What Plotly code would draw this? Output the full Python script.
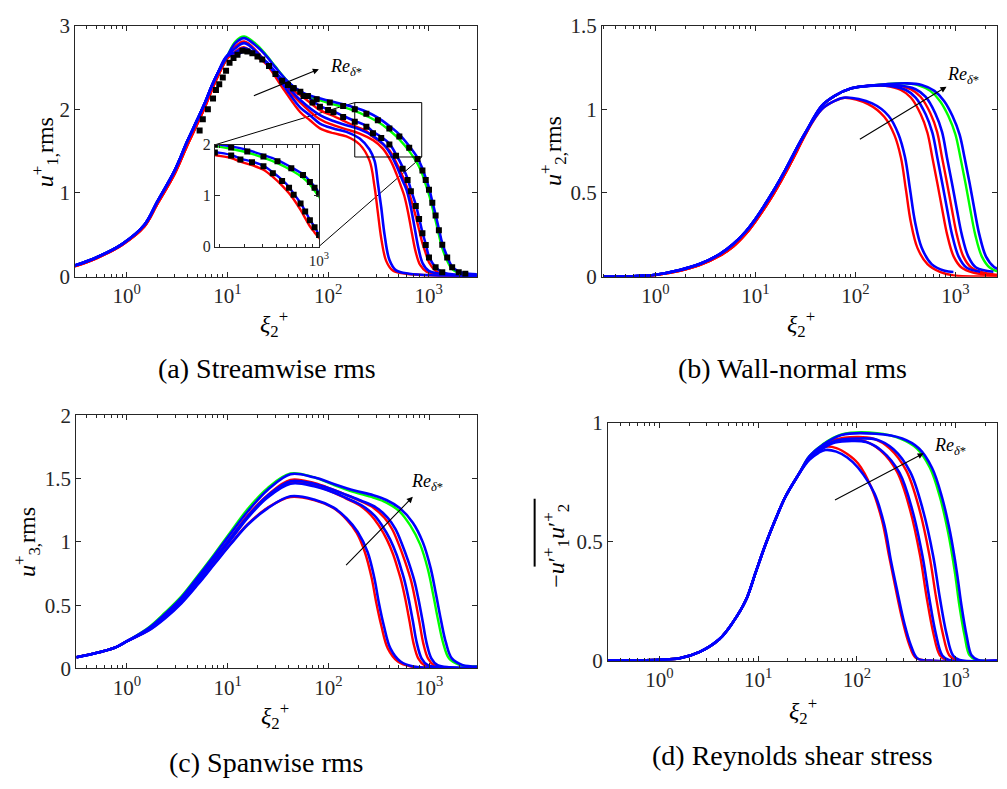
import math
import plotly.graph_objects as go

W, H = 1007, 789

# ------------------------------------------------------------------ data
# (a) streamwise rms  -- shared near-wall part, then per-curve outer part
A_RISE_X = [0.3, 0.5, 0.9, 1.5, 2, 3, 4, 5, 6, 7, 8, 10]
A_RISE_Y = [0.13, 0.23, 0.39, 0.62, 0.89, 1.27, 1.62, 1.87, 2.08, 2.28, 2.43, 2.64]
A_RISE_Y_RED = [0.12, 0.22, 0.38, 0.60, 0.86, 1.23, 1.57, 1.82, 2.03, 2.23, 2.39, 2.61]

A_G1_RED_X = [12, 14.7, 19, 24.9, 36.3, 53, 66, 83, 113, 152, 206, 258, 289, 312, 337, 377, 439, 593, 1084, 3000]
A_G1_RED_Y = [2.66, 2.71, 2.66, 2.525, 2.236, 1.965, 1.869, 1.772, 1.714, 1.676, 1.579, 1.386, 1.077, 0.768, 0.46, 0.189, 0.073, 0.035, 0.015, 0.008]
A_G1_BLUE_X = [12, 14.7, 19, 24.9, 36.3, 53, 66, 83, 113, 152, 206, 258, 290, 312, 337, 364, 407, 474, 640, 1170, 3000]
A_G1_BLUE_Y = [2.64, 2.69, 2.65, 2.56, 2.28, 2.02, 1.93, 1.83, 1.77, 1.73, 1.65, 1.52, 1.38, 1.12, 0.83, 0.50, 0.20, 0.075, 0.035, 0.015, 0.008]
A_G2_RED_X = [12, 14.7, 20, 25, 36, 53, 83, 113, 152, 206, 280, 350, 420, 480, 530, 570, 620, 680, 740, 820, 950, 1300, 3000]
A_G2_RED_Y = [2.69, 2.74, 2.62, 2.53, 2.30, 2.08, 1.88, 1.81, 1.76, 1.71, 1.63, 1.53, 1.38, 1.22, 1.08, 0.97, 0.78, 0.52, 0.30, 0.14, 0.06, 0.025, 0.01]
A_G2_BLUE_X = [12, 14.7, 20, 25, 36, 53, 83, 113, 152, 206, 280, 350, 420, 480, 540, 600, 650, 720, 790, 870, 1000, 1400, 3000]
A_G2_BLUE_Y = [2.68, 2.73, 2.64, 2.55, 2.33, 2.11, 1.93, 1.86, 1.81, 1.76, 1.68, 1.59, 1.46, 1.32, 1.17, 1.04, 0.88, 0.60, 0.34, 0.16, 0.07, 0.03, 0.01]
A_G3_RED_X = [12, 14.7, 20, 30, 40, 57, 83, 113, 141, 184, 240, 279, 337, 406, 473, 550, 616, 664, 743, 801, 865, 933, 1005, 1169, 1361, 2000, 3000]
A_G3_RED_Y = [2.75, 2.81, 2.68, 2.41, 2.27, 2.14, 1.99, 1.92, 1.865, 1.80, 1.74, 1.67, 1.60, 1.51, 1.37, 1.20, 1.05, 0.93, 0.72, 0.56, 0.40, 0.28, 0.17, 0.07, 0.03, 0.012, 0.006]
A_G3_BLUE_X = [12, 14.7, 20, 30, 40, 57, 83, 113, 141, 184, 240, 279, 337, 406, 473, 550, 616, 664, 743, 801, 865, 933, 1005, 1169, 1361, 2000, 3000]
A_G3_BLUE_Y = [2.73, 2.79, 2.67, 2.43, 2.31, 2.19, 2.04, 1.975, 1.92, 1.86, 1.80, 1.73, 1.67, 1.59, 1.46, 1.31, 1.17, 1.04, 0.86, 0.70, 0.53, 0.39, 0.24, 0.11, 0.055, 0.02, 0.01]
A_G4_GREEN_X = [12, 14.7, 20, 25, 30, 40, 53, 77, 104, 141, 184, 240, 312, 406, 510, 639, 773, 865, 933, 1005, 1084, 1169, 1260, 1361, 1524, 1707, 1984, 2500, 3000]
A_G4_GREEN_Y = [2.81, 2.87, 2.76, 2.63, 2.51, 2.33, 2.20, 2.12, 2.07, 2.03, 1.98, 1.92, 1.85, 1.75, 1.64, 1.50, 1.35, 1.22, 1.10, 0.98, 0.83, 0.67, 0.50, 0.34, 0.19, 0.09, 0.045, 0.025, 0.02]
A_G4_BLUE_X = [12, 14.7, 20, 25, 30, 40, 53, 77, 104, 141, 184, 240, 312, 406, 510, 639, 773, 865, 933, 1005, 1084, 1169, 1260, 1361, 1524, 1707, 1984, 2500, 3000]
A_G4_BLUE_Y = [2.79, 2.85, 2.74, 2.62, 2.50, 2.33, 2.21, 2.14, 2.10, 2.06, 2.02, 1.97, 1.90, 1.80, 1.70, 1.56, 1.42, 1.29, 1.18, 1.06, 0.90, 0.74, 0.57, 0.40, 0.24, 0.12, 0.06, 0.035, 0.03]

A_DOTS_U_X = [5.3, 5.7, 6.4, 7.2, 7.7, 8.3, 9.0, 9.7, 10.5, 11.5, 12.6, 14.1, 15.8, 17.7, 19.9, 22.2, 25.9, 30, 35, 40,
              45, 53, 63, 77, 104, 141, 184, 240, 312, 406, 510, 639, 773, 865, 933, 1005, 1084, 1169, 1260, 1361,
              1524, 1707, 1984, 2306]
A_DOTS_U_Y = [1.745, 1.88, 2.0, 2.13, 2.23, 2.30, 2.38, 2.46, 2.556, 2.614, 2.65, 2.70, 2.69, 2.67, 2.63, 2.595, 2.517, 2.42, 2.34, 2.29,
              2.25, 2.21, 2.16, 2.12, 2.08, 2.04, 2.00, 1.946, 1.87, 1.77, 1.675, 1.54, 1.405, 1.27, 1.155, 1.04, 0.884, 0.73, 0.556, 0.382,
              0.228, 0.112, 0.054, 0.035]
A_DOTS_L_X = [45.6, 57, 70, 83, 100, 113, 141, 184, 240, 279, 337, 406, 473, 550, 616, 664, 743, 801, 865, 933, 1005, 1169, 1361]
A_DOTS_L_Y = [2.25, 2.16, 2.08, 2.03, 1.99, 1.965, 1.908, 1.85, 1.79, 1.714, 1.656, 1.579, 1.444, 1.29, 1.155, 1.02, 0.846, 0.69, 0.52, 0.38, 0.228, 0.112, 0.054]

# (b) wall-normal rms
B_RISE_X = [0.3, 0.6, 1, 1.75, 2.8, 4.4, 6, 8, 10, 14.7, 20, 26, 31.6]
B_RISE_Y = [0.0, 0.003, 0.012, 0.04, 0.077, 0.135, 0.195, 0.27, 0.345, 0.50, 0.64, 0.77, 0.86]
B_RISE_Y_RED = [0.0, 0.002, 0.01, 0.035, 0.07, 0.125, 0.18, 0.255, 0.33, 0.48, 0.62, 0.75, 0.85]
B_G1_RED_X = [46, 62, 78, 134, 195, 245, 285, 320, 358, 417, 525, 710, 958, 3000]
B_G1_RED_Y = [1.00, 1.05, 1.069, 1.031, 0.954, 0.847, 0.712, 0.519, 0.326, 0.172, 0.075, 0.027, 0.008, 0.002]
B_G1_BLUE_X = [46, 62, 80, 147, 215, 270, 313, 352, 394, 459, 578, 780, 955]
B_G1_BLUE_Y = [1.00, 1.05, 1.07, 1.035, 0.96, 0.85, 0.715, 0.52, 0.33, 0.175, 0.075, 0.035, 0.028]
B_G2_RED_X = [46, 62, 91, 134, 200, 285, 358, 450, 525, 588, 659, 739, 828, 962, 1150, 1500, 2060, 3000]
B_G2_RED_Y = [1.02, 1.08, 1.125, 1.14, 1.14, 1.115, 1.07, 0.97, 0.86, 0.712, 0.56, 0.40, 0.25, 0.12, 0.055, 0.025, 0.012, 0.005]
B_G2_BLUE_X = [46, 62, 91, 134, 220, 320, 400, 504, 588, 659, 738, 828, 927, 1077, 1288, 1770]
B_G2_BLUE_Y = [1.02, 1.08, 1.125, 1.14, 1.14, 1.115, 1.07, 0.97, 0.86, 0.712, 0.56, 0.40, 0.25, 0.12, 0.055, 0.03]
B_G3_RED_X = [46, 62, 91, 134, 250, 356, 448, 563, 656, 735, 824, 924, 1035, 1203, 1438, 1875, 2575, 3000]
B_G3_RED_Y = [1.02, 1.08, 1.125, 1.14, 1.145, 1.12, 1.075, 0.975, 0.865, 0.712, 0.56, 0.40, 0.25, 0.12, 0.055, 0.025, 0.012, 0.008]
B_G3_BLUE_X = [46, 62, 91, 134, 250, 400, 502, 630, 735, 823, 923, 1035, 1160, 1347, 1610, 2400]
B_G3_BLUE_Y = [1.02, 1.08, 1.125, 1.14, 1.145, 1.12, 1.075, 0.975, 0.865, 0.712, 0.56, 0.40, 0.25, 0.12, 0.055, 0.03]
B_G4_GREEN_X = [46, 62, 91, 134, 200, 300, 420, 560, 700, 850, 1000, 1122, 1260, 1410, 1580, 1840, 2200, 3000]
B_G4_GREEN_Y = [1.02, 1.08, 1.125, 1.14, 1.15, 1.155, 1.145, 1.11, 1.05, 0.96, 0.85, 0.712, 0.56, 0.40, 0.25, 0.12, 0.055, 0.02]
B_G4_BLUE_X = [46, 62, 91, 134, 200, 330, 460, 616, 770, 935, 1100, 1234, 1386, 1551, 1738, 2024, 2420, 3000]
B_G4_BLUE_Y = [1.02, 1.08, 1.125, 1.14, 1.15, 1.155, 1.145, 1.11, 1.05, 0.96, 0.85, 0.712, 0.56, 0.40, 0.25, 0.12, 0.06, 0.035]

# (c) spanwise rms
C_RISE_X = [0.315, 0.53, 0.77, 1]
C_RISE_Y = [0.088, 0.128, 0.166, 0.215]
C_G1_RED_X = [1.63, 2.38, 3.47, 5.07, 7.39, 10.8, 15.8, 24.9, 42, 72, 113, 152, 191, 230, 268, 300, 336, 390, 490, 660, 1400, 3000]
C_G1_RED_Y = [0.30, 0.40, 0.52, 0.67, 0.83, 0.99, 1.14, 1.27, 1.355, 1.33, 1.265, 1.175, 1.07, 0.92, 0.72, 0.513, 0.335, 0.156, 0.054, 0.015, 0.003, 0.002]
C_G1_BLUE_X = [1.63, 2.38, 3.47, 5.07, 7.39, 10.8, 15.8, 24.9, 42, 72, 113, 152, 195, 245, 285, 318, 356, 414, 520, 700, 1500, 3000]
C_G1_BLUE_Y = [0.298, 0.395, 0.515, 0.665, 0.825, 0.985, 1.135, 1.265, 1.36, 1.335, 1.27, 1.185, 1.08, 0.92, 0.72, 0.513, 0.335, 0.156, 0.054, 0.015, 0.003, 0.002]
C_G2_RED_X = [1.63, 2.38, 3.47, 5.07, 7.39, 10.8, 15.8, 24.9, 42, 72, 113, 152, 212, 265, 316, 380, 440, 500, 530, 580, 640, 700, 780, 900, 1200, 3000]
C_G2_RED_Y = [0.308, 0.415, 0.54, 0.70, 0.86, 1.03, 1.20, 1.36, 1.47, 1.445, 1.39, 1.34, 1.28, 1.21, 1.13, 1.02, 0.90, 0.76, 0.69, 0.55, 0.37, 0.20, 0.08, 0.025, 0.008, 0.003]
C_G2_BLUE_X = [1.63, 2.38, 3.47, 5.07, 7.39, 10.8, 15.8, 24.9, 42, 72, 113, 152, 212, 286, 341, 410, 475, 540, 572, 626, 691, 756, 842, 972, 1300, 3000]
C_G2_BLUE_Y = [0.305, 0.41, 0.535, 0.69, 0.855, 1.02, 1.19, 1.35, 1.46, 1.44, 1.39, 1.345, 1.29, 1.21, 1.13, 1.02, 0.90, 0.76, 0.69, 0.55, 0.37, 0.20, 0.08, 0.025, 0.008, 0.003]
C_G3_RED_X = [1.63, 2.38, 3.47, 5.07, 7.39, 10.8, 15.8, 24.9, 42, 72, 113, 152, 212, 280, 360, 430, 500, 580, 664, 725, 800, 875, 975, 1125, 1500, 3000]
C_G3_RED_Y = [0.31, 0.42, 0.545, 0.705, 0.87, 1.04, 1.21, 1.37, 1.49, 1.465, 1.41, 1.37, 1.32, 1.27, 1.19, 1.10, 0.98, 0.84, 0.69, 0.55, 0.37, 0.20, 0.08, 0.025, 0.008, 0.003]
C_G3_BLUE_X = [1.63, 2.38, 3.47, 5.07, 7.39, 10.8, 15.8, 24.9, 42, 72, 113, 152, 212, 300, 389, 464, 540, 626, 716, 783, 864, 945, 1053, 1215, 1620, 3000]
C_G3_BLUE_Y = [0.31, 0.418, 0.54, 0.70, 0.865, 1.035, 1.20, 1.365, 1.48, 1.46, 1.41, 1.37, 1.325, 1.27, 1.19, 1.10, 0.98, 0.84, 0.69, 0.55, 0.37, 0.20, 0.08, 0.025, 0.008, 0.003]
C_G4_GREEN_X = [1.63, 2.38, 3.47, 5.07, 7.39, 10.8, 15.8, 24.9, 42, 72, 113, 177, 279, 377, 510, 650, 815, 975, 1100, 1230, 1380, 1580, 2000, 3000]
C_G4_GREEN_Y = [0.322, 0.44, 0.57, 0.735, 0.905, 1.085, 1.26, 1.425, 1.54, 1.51, 1.45, 1.395, 1.35, 1.31, 1.24, 1.13, 0.98, 0.78, 0.58, 0.38, 0.20, 0.078, 0.028, 0.015]
C_G4_BLUE_X = [1.63, 2.38, 3.47, 5.07, 7.39, 10.8, 15.8, 24.9, 42, 72, 113, 177, 279, 377, 510, 690, 866, 1035, 1169, 1310, 1466, 1682, 2130, 3000]
C_G4_BLUE_Y = [0.316, 0.43, 0.56, 0.725, 0.895, 1.07, 1.24, 1.41, 1.535, 1.51, 1.458, 1.408, 1.369, 1.331, 1.267, 1.152, 0.998, 0.795, 0.59, 0.385, 0.207, 0.079, 0.028, 0.015]

# (d) Reynolds shear stress
D_RISE_X = [0.3, 1, 1.6, 2.56, 4.06, 5.5, 7.5, 9.5, 11.9, 15, 18.9, 25.8]
D_RISE_Y = [0.0, 0.004, 0.01, 0.037, 0.091, 0.159, 0.254, 0.375, 0.49, 0.595, 0.69, 0.785]
D_G1_RED_X = [33, 41, 48, 62, 80, 103, 140, 180, 212, 248, 290, 338, 395, 540, 3000]
D_G1_RED_Y = [0.85, 0.885, 0.90, 0.895, 0.87, 0.83, 0.73, 0.59, 0.44, 0.30, 0.17, 0.07, 0.012, 0.0, 0.0]
D_G1_BLUE_X = [33, 41, 48, 62, 80, 103, 151, 191, 222, 260, 302, 353, 412, 560, 3000]
D_G1_BLUE_Y = [0.845, 0.875, 0.887, 0.88, 0.855, 0.812, 0.703, 0.567, 0.418, 0.282, 0.159, 0.064, 0.009, 0.0, 0.0]
D_G2_RED_X = [33, 41, 60, 90, 118, 173, 255, 346, 436, 509, 594, 693, 808, 3000]
D_G2_RED_Y = [0.855, 0.885, 0.922, 0.93, 0.925, 0.885, 0.795, 0.635, 0.445, 0.268, 0.118, 0.023, 0.003, 0.0]
D_G2_BLUE_X = [33, 41, 60, 90, 124, 183, 271, 367, 463, 541, 630, 734, 857, 3000]
D_G2_BLUE_Y = [0.852, 0.882, 0.918, 0.925, 0.92, 0.88, 0.79, 0.63, 0.44, 0.265, 0.115, 0.022, 0.003, 0.0]
D_G3_RED_X = [33, 41, 60, 100, 147, 215, 317, 431, 543, 634, 739, 862, 1006, 3000]
D_G3_RED_Y = [0.857, 0.89, 0.93, 0.942, 0.935, 0.894, 0.80, 0.636, 0.445, 0.268, 0.118, 0.023, 0.003, 0.0]
D_G3_BLUE_X = [33, 41, 60, 100, 160, 235, 347, 470, 594, 693, 808, 942, 1100, 3000]
D_G3_BLUE_Y = [0.855, 0.887, 0.925, 0.935, 0.93, 0.89, 0.795, 0.63, 0.44, 0.265, 0.115, 0.022, 0.003, 0.0]
D_G4_GREEN_X = [33, 45, 70, 160, 275, 404, 550, 693, 840, 980, 1098, 1235, 1383, 1616, 3000]
D_G4_GREEN_Y = [0.86, 0.91, 0.952, 0.958, 0.935, 0.894, 0.812, 0.69, 0.54, 0.377, 0.227, 0.105, 0.023, 0.003, 0.0]
D_G4_BLUE_X = [33, 45, 70, 156, 288, 424, 577, 727, 881, 1027, 1153, 1295, 1452, 1694, 3000]
D_G4_BLUE_Y = [0.86, 0.908, 0.95, 0.955, 0.935, 0.894, 0.812, 0.69, 0.54, 0.377, 0.227, 0.105, 0.023, 0.003, 0.0]

# tick labels / texts
X_TICKS = [1, 10, 100, 1000]
X_TICKTEXT = ["10<sup>0</sup>", "10<sup>1</sup>", "10<sup>2</sup>", "10<sup>3</sup>"]
A_YTICKS = [0, 1, 2, 3]
B_YTICKS = [0, 0.5, 1, 1.5]
C_YTICKS = [0, 0.5, 1, 1.5, 2]
D_YTICKS = [0, 0.5, 1]
INSET_YTICKS = [0, 1, 2]
CAPTIONS = ["(a) Streamwise rms", "(b) Wall-normal rms", "(c) Spanwise rms", "(d) Reynolds shear stress"]

# zoom box of panel (a) (data units) and inset ranges
ZOOM_BOX_X = [184, 851]
ZOOM_BOX_Y = [1.43, 2.08]
INSET_XRANGE = [184, 1000]
INSET_YRANGE = [0, 2]

# arrows (tail, head) in data units, and label anchor
ARROWS = {
    "a": dict(tail=(17.7, 2.155), head=(81, 2.479), label=(99, 2.50)),
    "b": dict(tail=(107, 0.816), head=(815, 1.135), label=(778, 1.199)),
    "c": dict(tail=(145, 0.805), head=(690, 1.356), label=(631, 1.471)),
    "d": dict(tail=(58, 0.673), head=(476, 0.873), label=(573, 0.902)),
}

# ------------------------------------------------------------------ layout geometry (pixels)
BOX = {  # left, top, right, bottom
    "a": (76, 14, 482, 273),
    "b": (608, 14, 1007, 273),
    "c": (77, 416, 482, 677),
    "d": (614, 424, 1007, 669),
    "i": (217, 137, 322, 242),
}
XR = {"a": [-0.511, 3.481], "b": [-0.535, 3.416], "c": [-0.504, 3.478], "d": [-0.522, 3.42],
      "i": [math.log10(INSET_XRANGE[0]), math.log10(INSET_XRANGE[1])]}
YR = {"a": [0, 3], "b": [0, 1.5], "c": [0, 2], "d": [0, 1], "i": INSET_YRANGE}

AXID = {"a": "", "b": "2", "c": "3", "d": "4", "i": "5"}

RED, GREEN, BLUE = "#ff0000", "#00ff00", "#0000ff"
AXC = "#262626"
FONT = "Liberation Serif, Times New Roman, DejaVu Serif, serif"


def xdom(k):
    l, t, r, b = BOX[k]
    return [l / W, min(r / W, 1.0)]


def ydom(k):
    l, t, r, b = BOX[k]
    return [1 - b / H, 1 - t / H]


def to_paper(k, x, y):
    dx, dy = xdom(k), ydom(k)
    px = dx[0] + (math.log10(x) - XR[k][0]) / (XR[k][1] - XR[k][0]) * (dx[1] - dx[0])
    py = dy[0] + (y - YR[k][0]) / (YR[k][1] - YR[k][0]) * (dy[1] - dy[0])
    return px, py


fig = go.Figure()


def line(k, x, y, color, width=2.4):
    a = AXID[k]
    fig.add_trace(go.Scatter(x=x, y=y, mode="lines", xaxis="x" + a, yaxis="y" + a,
                             line=dict(color=color, width=width, shape="spline", smoothing=1.0),
                             hoverinfo="skip", showlegend=False))


def dots(k, x, y):
    a = AXID[k]
    fig.add_trace(go.Scatter(x=x, y=y, mode="markers", xaxis="x" + a, yaxis="y" + a,
                             marker=dict(symbol="square", size=6, color="black"),
                             hoverinfo="skip", showlegend=False))


# ---- panel (a)
for cx, cy, col, rise in [
    (A_G1_RED_X, A_G1_RED_Y, RED, A_RISE_Y_RED), (A_G2_RED_X, A_G2_RED_Y, RED, A_RISE_Y_RED),
    (A_G3_RED_X, A_G3_RED_Y, RED, A_RISE_Y_RED),
    (A_G4_GREEN_X, A_G4_GREEN_Y, GREEN, A_RISE_Y),
    (A_G1_BLUE_X, A_G1_BLUE_Y, BLUE, A_RISE_Y), (A_G2_BLUE_X, A_G2_BLUE_Y, BLUE, A_RISE_Y),
    (A_G3_BLUE_X, A_G3_BLUE_Y, BLUE, A_RISE_Y), (A_G4_BLUE_X, A_G4_BLUE_Y, BLUE, A_RISE_Y),
]:
    line("a", A_RISE_X + cx, rise + cy, col, 2.6 if col == BLUE else 2.4)
dots("a", A_DOTS_U_X, A_DOTS_U_Y)
dots("a", A_DOTS_L_X, A_DOTS_L_Y)

# ---- panel (b)
for cx, cy, col, rise in [
    (B_G1_RED_X, B_G1_RED_Y, RED, B_RISE_Y_RED), (B_G2_RED_X, B_G2_RED_Y, RED, B_RISE_Y_RED),
    (B_G3_RED_X, B_G3_RED_Y, RED, B_RISE_Y_RED),
    (B_G4_GREEN_X, B_G4_GREEN_Y, GREEN, B_RISE_Y),
    (B_G1_BLUE_X, B_G1_BLUE_Y, BLUE, B_RISE_Y), (B_G2_BLUE_X, B_G2_BLUE_Y, BLUE, B_RISE_Y),
    (B_G3_BLUE_X, B_G3_BLUE_Y, BLUE, B_RISE_Y), (B_G4_BLUE_X, B_G4_BLUE_Y, BLUE, B_RISE_Y),
]:
    line("b", B_RISE_X + cx, rise + cy, col, 2.6 if col == BLUE else 2.4)

# ---- panel (c)
for cx, cy, col in [
    (C_G1_RED_X, C_G1_RED_Y, RED), (C_G2_RED_X, C_G2_RED_Y, RED), (C_G3_RED_X, C_G3_RED_Y, RED),
    (C_G4_GREEN_X, C_G4_GREEN_Y, GREEN),
    (C_G1_BLUE_X, C_G1_BLUE_Y, BLUE), (C_G2_BLUE_X, C_G2_BLUE_Y, BLUE), (C_G3_BLUE_X, C_G3_BLUE_Y, BLUE),
    (C_G4_BLUE_X, C_G4_BLUE_Y, BLUE),
]:
    line("c", C_RISE_X + cx, C_RISE_Y + cy, col, 2.6 if col == BLUE else 2.4)

# ---- panel (d)
for cx, cy, col in [
    (D_G1_RED_X, D_G1_RED_Y, RED), (D_G2_RED_X, D_G2_RED_Y, RED), (D_G3_RED_X, D_G3_RED_Y, RED),
    (D_G4_GREEN_X, D_G4_GREEN_Y, GREEN),
    (D_G1_BLUE_X, D_G1_BLUE_Y, BLUE), (D_G2_BLUE_X, D_G2_BLUE_Y, BLUE), (D_G3_BLUE_X, D_G3_BLUE_Y, BLUE),
    (D_G4_BLUE_X, D_G4_BLUE_Y, BLUE),
]:
    line("d", D_RISE_X + cx, D_RISE_Y + cy, col, 2.6 if col == BLUE else 2.4)

# ---- inset of panel (a): white background then the two highest-Re pairs
fig.add_trace(go.Scatter(
    x=[INSET_XRANGE[0], INSET_XRANGE[1], INSET_XRANGE[1], INSET_XRANGE[0], INSET_XRANGE[0]],
    y=[INSET_YRANGE[0], INSET_YRANGE[0], INSET_YRANGE[1], INSET_YRANGE[1], INSET_YRANGE[0]],
    mode="lines", fill="toself", fillcolor="white", line=dict(width=0, color="white"),
    xaxis="x5", yaxis="y5", hoverinfo="skip", showlegend=False))
for cx, cy, col in [
    (A_G3_RED_X, A_G3_RED_Y, RED), (A_G4_GREEN_X, A_G4_GREEN_Y, GREEN),
    (A_G3_BLUE_X, A_G3_BLUE_Y, BLUE), (A_G4_BLUE_X, A_G4_BLUE_Y, BLUE),
]:
    line("i", A_RISE_X + cx, A_RISE_Y + cy, col)
dots("i", A_DOTS_U_X, A_DOTS_U_Y)
dots("i", A_DOTS_L_X, A_DOTS_L_Y)

# ------------------------------------------------------------------ axes
def xaxis(k, ticksize=21, tickvals=X_TICKS, ticktext=X_TICKTEXT):
    a = AXID[k]
    return dict(type="log", range=XR[k], domain=xdom(k), anchor="y" + a,
                showline=True, linecolor=AXC, linewidth=1, mirror="allticks",
                ticks="inside", ticklen=5, tickcolor=AXC, tickwidth=1,
                tickmode="array", tickvals=tickvals, ticktext=ticktext,
                minor=dict(ticks="inside", ticklen=3, tickcolor=AXC, dtick="D1", showgrid=False),
                showgrid=False, zeroline=False,
                tickfont=dict(family=FONT, size=ticksize, color=AXC), ticklabelstandoff=0)


def yaxis(k, ticks, ticksize=21):
    a = AXID[k]
    return dict(range=YR[k], domain=ydom(k), anchor="x" + a,
                showline=True, linecolor=AXC, linewidth=1, mirror="allticks",
                ticks="inside", ticklen=5, tickcolor=AXC, tickwidth=1,
                tickmode="array", tickvals=ticks, ticktext=[("%g" % t) for t in ticks],
                showgrid=False, zeroline=False,
                tickfont=dict(family=FONT, size=ticksize, color=AXC))


layout = dict(
    width=W, height=H, margin=dict(l=0, r=0, t=0, b=0),
    paper_bgcolor="white", plot_bgcolor="white", showlegend=False,
    font=dict(family=FONT),
    xaxis=xaxis("a"), yaxis=yaxis("a", A_YTICKS),
    xaxis2=xaxis("b"), yaxis2=yaxis("b", B_YTICKS),
    xaxis3=xaxis("c"), yaxis3=yaxis("c", C_YTICKS),
    xaxis4=xaxis("d"), yaxis4=yaxis("d", D_YTICKS),
    xaxis5=xaxis("i", ticksize=15, tickvals=[1000], ticktext=["10<sup>3</sup>"]),
    yaxis5=yaxis("i", INSET_YTICKS, ticksize=16),
)
fig.update_layout(**layout)

# ------------------------------------------------------------------ annotations
ann = []


def text(px, py, s, size=22, angle=0, xanchor="center", yanchor="middle"):
    ann.append(dict(x=px / W, y=1 - py / H, xref="paper", yref="paper", text=s, showarrow=False,
                    textangle=angle, xanchor=xanchor, yanchor=yanchor,
                    font=dict(family=FONT, size=size, color="black")))


# captions
text(270, 368, CAPTIONS[0], size=28)
text(800, 368, CAPTIONS[1], size=28)
text(269, 774, CAPTIONS[2], size=28)
text(800, 767, CAPTIONS[3], size=28)

# x titles
XT = "<i>ξ</i><sub>2</sub><sup>+</sup>"
text(277, 322, XT, size=24)
text(809, 322, XT, size=24)
text(278, 726, XT, size=24)
text(811, 721, XT, size=24)

# y titles
text(45, 145, "<i>u</i><sup>+</sup><sub>1,</sub>rms", size=24, angle=-90)
text(558, 143, "<i>u</i><sup>+</sup><sub>2,</sub>rms", size=24, angle=-90)
text(28, 547, "<i>u</i><sup>+</sup><sub>3,</sub>rms", size=24, angle=-90)
text(562, 550, "−<i>u</i>′<sup>+</sup><sub>1</sub><i>u</i>′<sup>+</sup><sub>2</sub>", size=24, angle=-90)

# arrows with Re labels
for k, arr in ARROWS.items():
    a = AXID[k]
    (tx, ty), (hx, hy), (lx, ly) = arr["tail"], arr["head"], arr["label"]
    ann.append(dict(x=math.log10(hx), y=hy, ax=math.log10(tx), ay=ty,
                    xref="x" + a, yref="y" + a, axref="x" + a, ayref="y" + a,
                    text="", showarrow=True, arrowhead=2, arrowsize=1.1, arrowwidth=1.1,
                    arrowcolor="black", standoff=0))
    ann.append(dict(x=math.log10(lx), y=ly, xref="x" + a, yref="y" + a,
                    text="<i>Re</i><sub><i>δ</i>*</sub>", showarrow=False,
                    xanchor="left", yanchor="middle",
                    font=dict(family=FONT, size=18, color="black")))

fig.update_layout(annotations=ann)

# ------------------------------------------------------------------ shapes: zoom box, connectors, overline
shapes = []
shapes.append(dict(type="rect", xref="x", yref="y",
                   x0=ZOOM_BOX_X[0], x1=ZOOM_BOX_X[1],
                   y0=ZOOM_BOX_Y[0], y1=ZOOM_BOX_Y[1],
                   line=dict(color="black", width=1)))
# connector lines: inset top-left -> box top-left ; inset bottom-right -> box bottom-right
i_tl = to_paper("i", INSET_XRANGE[0], INSET_YRANGE[1])
i_br = to_paper("i", INSET_XRANGE[1], INSET_YRANGE[0])
b_tl = to_paper("a", ZOOM_BOX_X[0], ZOOM_BOX_Y[1])
b_br = to_paper("a", ZOOM_BOX_X[1], ZOOM_BOX_Y[0])
for p, q in [(i_tl, b_tl), (i_br, b_br)]:
    shapes.append(dict(type="line", xref="paper", yref="paper", x0=p[0], y0=p[1], x1=q[0], y1=q[1],
                       line=dict(color="black", width=1), layer="below"))
# overline of the Reynolds stress label
shapes.append(dict(type="line", xref="paper", yref="paper",
                   x0=540 / W, x1=540 / W, y0=1 - 502 / H, y1=1 - 572 / H,
                   line=dict(color="black", width=2)))
fig.update_layout(shapes=shapes)

fig.write_html("out.html")
